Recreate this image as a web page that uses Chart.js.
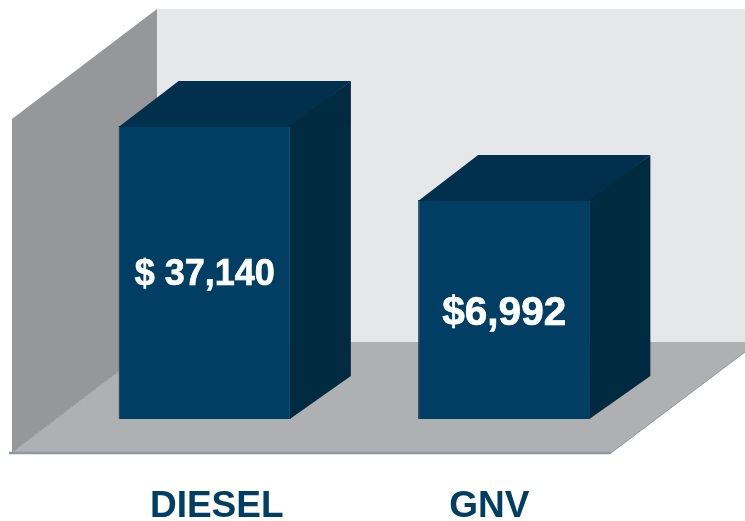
<!DOCTYPE html>
<html>
<head>
<meta charset="utf-8">
<style>
  html, body { margin: 0; padding: 0; background: #fff; }
  canvas { display: block; }
</style>
<script src="https://cdn.jsdelivr.net/npm/chart.js@4"></script>
</head>
<body>
<canvas id="costChart" width="745" height="521"></canvas>
<script>
const categories = ['DIESEL', 'GNV'];
const costs = [37140, 6992];
const costLabels = ['$ 37,140', '$6,992'];

// 3D box depth, and where the texts sit relative to their bar
const depthX = 60, depthTop = 45, depthBase = 43;
const valueFonts = [36, 40.5];
const valueOffsets = [{ x: 0, y: 159 }, { x: 0, y: 125 }];
const categoryOffsets = [12, -15];

function poly(ctx, pts, fill) {
    ctx.beginPath();
    pts.forEach((p, i) => i ? ctx.lineTo(p[0], p[1]) : ctx.moveTo(p[0], p[1]));
    ctx.closePath();
    ctx.fillStyle = fill;
    ctx.fill();
}

const room = {
    id: 'room',
    beforeDatasetsDraw(chart) {
        const ctx = chart.ctx;
        ctx.save();
        // back wall, left wall, floor
        poly(ctx, [[157, 9], [745, 9], [745, 342], [157, 342]], '#e6e7e9');
        poly(ctx, [[12, 119], [157, 9], [157, 342], [12, 452]], '#969798');
        poly(ctx, [[12, 452], [157, 342], [745, 342], [745, 352], [611, 453]], '#afb0b2');
        ctx.strokeStyle = '#8e97a6';
        ctx.lineWidth = 1;
        ctx.beginPath();
        ctx.moveTo(12, 452);
        ctx.lineTo(157, 342);
        ctx.moveTo(611, 453);
        ctx.lineTo(745, 352);
        ctx.stroke();
        ctx.lineWidth = 2.5;
        ctx.beginPath();
        ctx.moveTo(9, 453);
        ctx.lineTo(611, 453);
        ctx.stroke();
        // top and side faces of each bar, overlapping the front face a little
        chart.getDatasetMeta(0).data.forEach(bar => {
            const { x, y, base, width } = bar.getProps(['x', 'y', 'base', 'width'], true);
            const l = x - width / 2, r = x + width / 2;
            poly(ctx, [[l, y + 1], [l + depthX, y - depthTop], [r + depthX, y - depthTop], [r, y + 1]], '#00304c');
            poly(ctx, [[r - 1, y], [r + depthX, y - depthTop], [r + depthX, base - depthBase], [r - 1, base]], '#002a40');
        });
        ctx.restore();
    },
    afterDatasetsDraw(chart) {
        const ctx = chart.ctx;
        ctx.save();
        ctx.textAlign = 'center';
        ctx.textBaseline = 'alphabetic';
        chart.getDatasetMeta(0).data.forEach((bar, i) => {
            const vx = bar.x + valueOffsets[i].x, vy = bar.y + valueOffsets[i].y;
            ctx.fillStyle = '#ffffff';
            ctx.strokeStyle = '#ffffff';
            ctx.lineWidth = 0.7;
            ctx.font = 'bold ' + valueFonts[i] + 'px "Liberation Sans"';
            ctx.fillText(costLabels[i], vx, vy);
            ctx.strokeText(costLabels[i], vx, vy);
            ctx.fillStyle = '#003f63';
            ctx.font = 'bold 37px "Liberation Sans"';
            ctx.fillText(categories[i], bar.x + categoryOffsets[i], 517);
        });
        ctx.restore();
    }
};

new Chart(document.getElementById('costChart').getContext('2d'), {
    type: 'bar',
    data: {
        labels: categories,
        datasets: [{
            label: 'Cost',
            data: costs,
            backgroundColor: '#003f63',
            borderColor: '#00304c',
            borderWidth: 1,
            barPercentage: 0.575,
            categoryPercentage: 1
        }]
    },
    options: {
        responsive: false,
        animation: false,
        layout: { padding: { left: 55, right: 91, top: 9, bottom: 102 } },
        plugins: { legend: { display: false }, tooltip: { enabled: false } },
        scales: {
            x: { display: false },
            y: { display: false, type: 'logarithmic', min: 50, max: 521000 }
        }
    },
    plugins: [room]
});
</script>
</body>
</html>
